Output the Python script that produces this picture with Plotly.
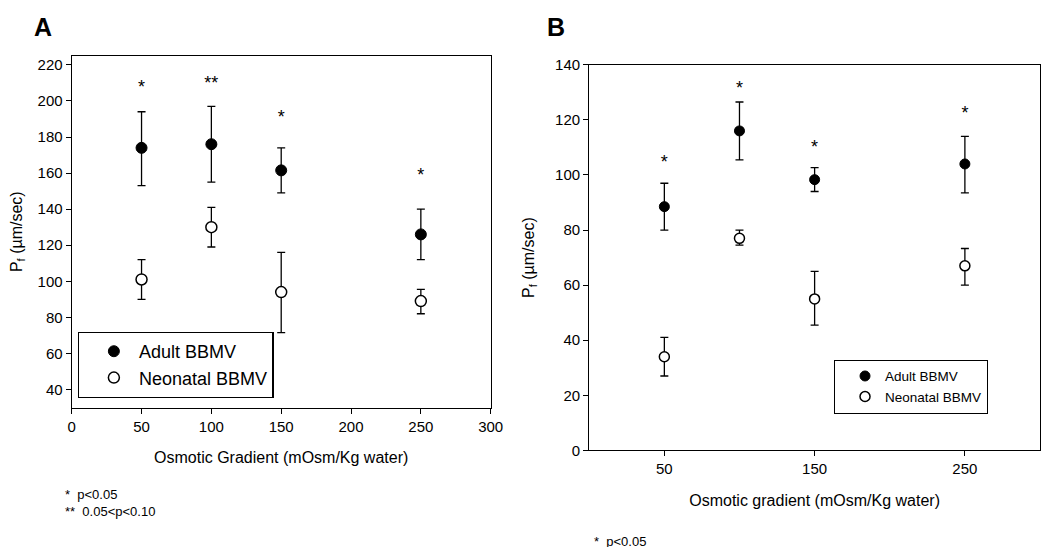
import plotly.graph_objects as go

# panel A data
a_x = [50, 100, 150, 250]
a_adult = [174, 176, 161.5, 126]
a_adult_hi = [194, 197, 174, 140]
a_adult_lo = [153, 155, 149, 112]
a_neo = [101, 130, 94, 89]
a_neo_hi = [112, 141, 116, 95.5]
a_neo_lo = [90, 119, 71.5, 82]
a_star_y = [207, 209, 190, 158]
a_star_txt = ["*", "**", "*", "*"]

# panel B data
b_x = [50, 100, 150, 250]
b_adult = [88.5, 116, 98.3, 104]
b_adult_hi = [97, 126.5, 102.7, 114]
b_adult_lo = [80, 105.5, 94, 93.5]
b_neo = [34, 77, 55, 67]
b_neo_hi = [41, 80, 65, 73.3]
b_neo_lo = [27, 74.5, 45.5, 60]
b_star_y = [104, 131, 109.5, 122]
b_star_txt = ["*", "*", "*", "*"]

FONT = "Liberation Sans, Arial, sans-serif"


# pixel -> paper fraction helpers (plot area as it ends up on the page)
def fx(px):
    return (px - 11) / 1038


def fy(py):
    return 1 - (py - 14) / 532


def errs(v, hi, lo):
    return [h - m for h, m in zip(hi, v)], [m - l for m, l in zip(v, lo)]


fig = go.Figure()


def add_panel(xa, ya, x, adult, ahi, alo, neo, nhi, nlo, sy, stxt, legend, msize):
    up, dn = errs(adult, ahi, alo)
    fig.add_trace(go.Scatter(
        x=x, y=adult, mode="markers", name="Adult BBMV", xaxis=xa, yaxis=ya,
        legend=legend,
        marker=dict(symbol="circle", size=msize, color="black",
                    line=dict(color="black", width=1)),
        error_y=dict(type="data", array=up, arrayminus=dn, color="black",
                     thickness=1.3, width=4)))
    up, dn = errs(neo, nhi, nlo)
    fig.add_trace(go.Scatter(
        x=x, y=neo, mode="markers", name="Neonatal BBMV", xaxis=xa, yaxis=ya,
        legend=legend,
        marker=dict(symbol="circle", size=msize, color="white",
                    line=dict(color="black", width=1.5)),
        error_y=dict(type="data", array=up, arrayminus=dn, color="black",
                     thickness=1.3, width=4)))
    fig.add_trace(go.Scatter(
        x=x, y=sy, mode="text", text=stxt, xaxis=xa, yaxis=ya,
        textfont=dict(family=FONT, size=18, color="black"),
        showlegend=False, hoverinfo="skip"))


add_panel("x", "y", a_x, a_adult, a_adult_hi, a_adult_lo, a_neo, a_neo_hi, a_neo_lo,
          a_star_y, a_star_txt, "legend", 11)
add_panel("x2", "y2", b_x, b_adult, b_adult_hi, b_adult_lo, b_neo, b_neo_hi, b_neo_lo,
          b_star_y, b_star_txt, "legend2", 10)

axis_common = dict(showline=True, linecolor="black", linewidth=1.2, mirror=True,
                   ticks="outside", ticklen=5, tickcolor="black", showgrid=False,
                   zeroline=False, tickfont=dict(family=FONT, size=15, color="black"))

fig.update_layout(
    width=1050, height=547,
    margin=dict(l=0, r=0, t=0, b=0),
    paper_bgcolor="white", plot_bgcolor="white",
    font=dict(family=FONT, color="black"),
    xaxis=dict(domain=[fx(71), fx(492)], range=[0, 300], tickvals=[0, 50, 100, 150, 200, 250, 300],
               title=dict(text="Osmotic Gradient (mOsm/Kg water)", font=dict(size=16), standoff=18),
               **axis_common),
    yaxis=dict(domain=[fy(406), fy(53)], range=[30, 225], tickvals=list(range(40, 221, 20)),
               title=dict(text="P<sub>f</sub> (µm/sec)", font=dict(size=16), standoff=14),
               **axis_common),
    xaxis2=dict(domain=[fx(591), fx(1044)], range=[0, 300], tickvals=[50, 150, 250],
                title=dict(text="Osmotic gradient (mOsm/Kg water)", font=dict(size=16), standoff=18),
                anchor="y2", **axis_common),
    yaxis2=dict(domain=[fy(449), fy(62)], range=[0, 140], tickvals=list(range(0, 141, 20)),
                title=dict(text="P<sub>f</sub> (µm/sec)", font=dict(size=16), standoff=16),
                anchor="x2", **axis_common),
    legend=dict(x=fx(77), y=fy(330), xanchor="left", yanchor="top",
                bordercolor="black", borderwidth=1.2, bgcolor="white",
                font=dict(family=FONT, size=18), itemwidth=40, indentation=10),
    legend2=dict(x=fx(837), y=fy(358), xanchor="left", yanchor="top",
                 bordercolor="black", borderwidth=1, bgcolor="white",
                 font=dict(family=FONT, size=13.5), itemwidth=30, indentation=10),
    showlegend=True,
)

fig.add_annotation(text="<b>A</b>", x=fx(31), y=fy(8), xref="paper", yref="paper",
                   xanchor="left", yanchor="top", showarrow=False,
                   font=dict(family=FONT, size=25, color="black"))
fig.add_annotation(text="<b>B</b>", x=fx(547), y=fy(8), xref="paper", yref="paper",
                   xanchor="left", yanchor="top", showarrow=False,
                   font=dict(family=FONT, size=25, color="black"))
fig.add_annotation(text="*  p<0.05<br>**  0.05<p<0.10", x=fx(62), y=fy(484), xref="paper", yref="paper",
                   xanchor="left", yanchor="top", showarrow=False, align="left",
                   font=dict(family=FONT, size=13, color="black"))
fig.add_annotation(text="*  p<0.05", x=fx(594), y=fy(531), xref="paper", yref="paper",
                   xanchor="left", yanchor="top", showarrow=False, align="left",
                   font=dict(family=FONT, size=13, color="black"))

fig.write_html("out.html")
